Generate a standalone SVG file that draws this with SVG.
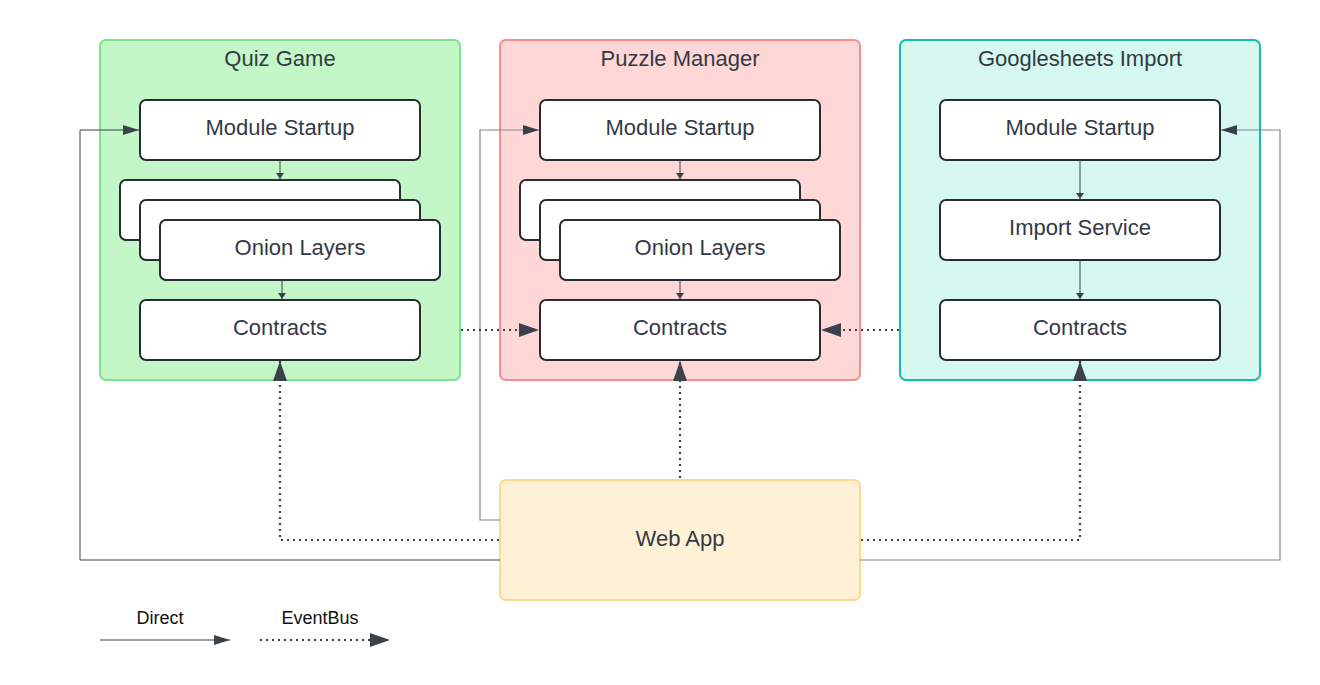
<svg xmlns="http://www.w3.org/2000/svg" width="1320" height="685" viewBox="0 0 1320 685">
<defs>
<style>
text{font-family:"Liberation Sans",Arial,sans-serif;fill:#333a43;text-anchor:middle;dominant-baseline:central}
.t{font-size:22px}
.box{fill:#fff;stroke:#282c33;stroke-width:2}
.d{fill:none;stroke:#3a414a;stroke-width:1}
.dg{fill:none;stroke:#7f848b;stroke-width:1.2}
.e{fill:none;stroke:#3a414a;stroke-width:2.2;stroke-dasharray:2 4}
.s{fill:none;stroke:#3a414a;stroke-width:1}
</style>
<marker id="ab" viewBox="0 0 20 14" refX="20" refY="7" markerWidth="20" markerHeight="14" markerUnits="userSpaceOnUse" orient="auto"><path d="M0,0 L20,7 L0,14 Z" fill="#3a414a"/></marker>
<marker id="am" viewBox="0 0 16 10" refX="16" refY="5" markerWidth="16" markerHeight="10" markerUnits="userSpaceOnUse" orient="auto"><path d="M0,0 L16,5 L0,10 Z" fill="#3a414a"/></marker>
<marker id="as" viewBox="0 0 6 8" refX="6" refY="4" markerWidth="6" markerHeight="8" markerUnits="userSpaceOnUse" orient="auto"><path d="M0,0 L6,4 L0,8 Z" fill="#3a414a"/></marker>
</defs>
<rect width="1320" height="685" fill="#fff"/>

<g id="quiz-game">
<rect x="100" y="40" width="360" height="340" rx="6" fill="#c3f7c8" stroke="#7fe38b" stroke-width="2"/>
<text x="280" y="58" class="t">Quiz Game</text>
</g>
<g id="puzzle-manager">
<rect x="500" y="40" width="360" height="340" rx="6" fill="#ffd7d7" stroke="#f88d8d" stroke-width="2"/>
<text x="680" y="58" class="t">Puzzle Manager</text>
</g>
<g id="googlesheets-import">
<rect x="900" y="40" width="360" height="340" rx="6" fill="#d5f8f1" stroke="#13bfa6" stroke-width="2"/>
<text x="1080" y="58" class="t">Googlesheets Import</text>
</g>

<g id="qg-startup"><rect class="box" x="140" y="100" width="280" height="60" rx="6"/><text x="280" y="127" class="t">Module Startup</text></g>
<g id="qg-onion">
<rect class="box" x="120" y="180" width="280" height="60" rx="6"/>
<rect class="box" x="140" y="200" width="280" height="60" rx="6"/>
<rect class="box" x="160" y="220" width="280" height="60" rx="6"/>
<text x="300" y="247" class="t">Onion Layers</text></g>
<g id="qg-contracts"><rect class="box" x="140" y="300" width="280" height="60" rx="6"/><text x="280" y="327" class="t">Contracts</text></g>

<g id="pm-startup"><rect class="box" x="540" y="100" width="280" height="60" rx="6"/><text x="680" y="127" class="t">Module Startup</text></g>
<g id="pm-onion">
<rect class="box" x="520" y="180" width="280" height="60" rx="6"/>
<rect class="box" x="540" y="200" width="280" height="60" rx="6"/>
<rect class="box" x="560" y="220" width="280" height="60" rx="6"/>
<text x="700" y="247" class="t">Onion Layers</text></g>
<g id="pm-contracts"><rect class="box" x="540" y="300" width="280" height="60" rx="6"/><text x="680" y="327" class="t">Contracts</text></g>

<g id="gs-startup"><rect class="box" x="940" y="100" width="280" height="60" rx="6"/><text x="1080" y="127" class="t">Module Startup</text></g>
<g id="gs-import"><rect class="box" x="940" y="200" width="280" height="60" rx="6"/><text x="1080" y="227" class="t">Import Service</text></g>
<g id="gs-contracts"><rect class="box" x="940" y="300" width="280" height="60" rx="6"/><text x="1080" y="327" class="t">Contracts</text></g>

<g id="web-app"><rect x="500" y="480" width="360" height="120" rx="6" fill="#fff1d6" stroke="#ffd98f" stroke-width="2"/><text x="680" y="538" class="t">Web App</text></g>

<g id="connectors">
<path class="s" d="M280,160 V179" marker-end="url(#as)"/>
<path class="s" d="M282,280 V299" marker-end="url(#as)"/>
<path class="s" d="M680,160 V179" marker-end="url(#as)"/>
<path class="s" d="M680,280 V299" marker-end="url(#as)"/>
<path class="s" d="M1080,160 V199" marker-end="url(#as)"/>
<path class="s" d="M1080,260 V299" marker-end="url(#as)"/>

<path class="d" d="M500,560 H80 V130 H139" marker-end="url(#am)"/>
<path class="dg" d="M500,520 H480 V130 H539" marker-end="url(#am)"/>
<path class="dg" d="M860,560 H1280 V130 H1221" marker-end="url(#am)"/>

<path class="e" d="M499,540 H280 V361" marker-end="url(#ab)"/>
<path class="e" d="M680,478 V361" marker-end="url(#ab)"/>
<path class="e" d="M861,540 H1080 V361" marker-end="url(#ab)"/>
<path class="e" d="M461,330 H539" marker-end="url(#ab)"/>
<path class="e" d="M899,330 H821" marker-end="url(#ab)"/>
</g>

<g id="legend">
<text x="160" y="618" style="font-size:18px;fill:#111">Direct</text>
<path class="d" d="M100,640 H230" marker-end="url(#am)"/>
<text x="320" y="618" style="font-size:18px;fill:#111">EventBus</text>
<path class="e" d="M260,640 H390" marker-end="url(#ab)"/>
</g>
</svg>
